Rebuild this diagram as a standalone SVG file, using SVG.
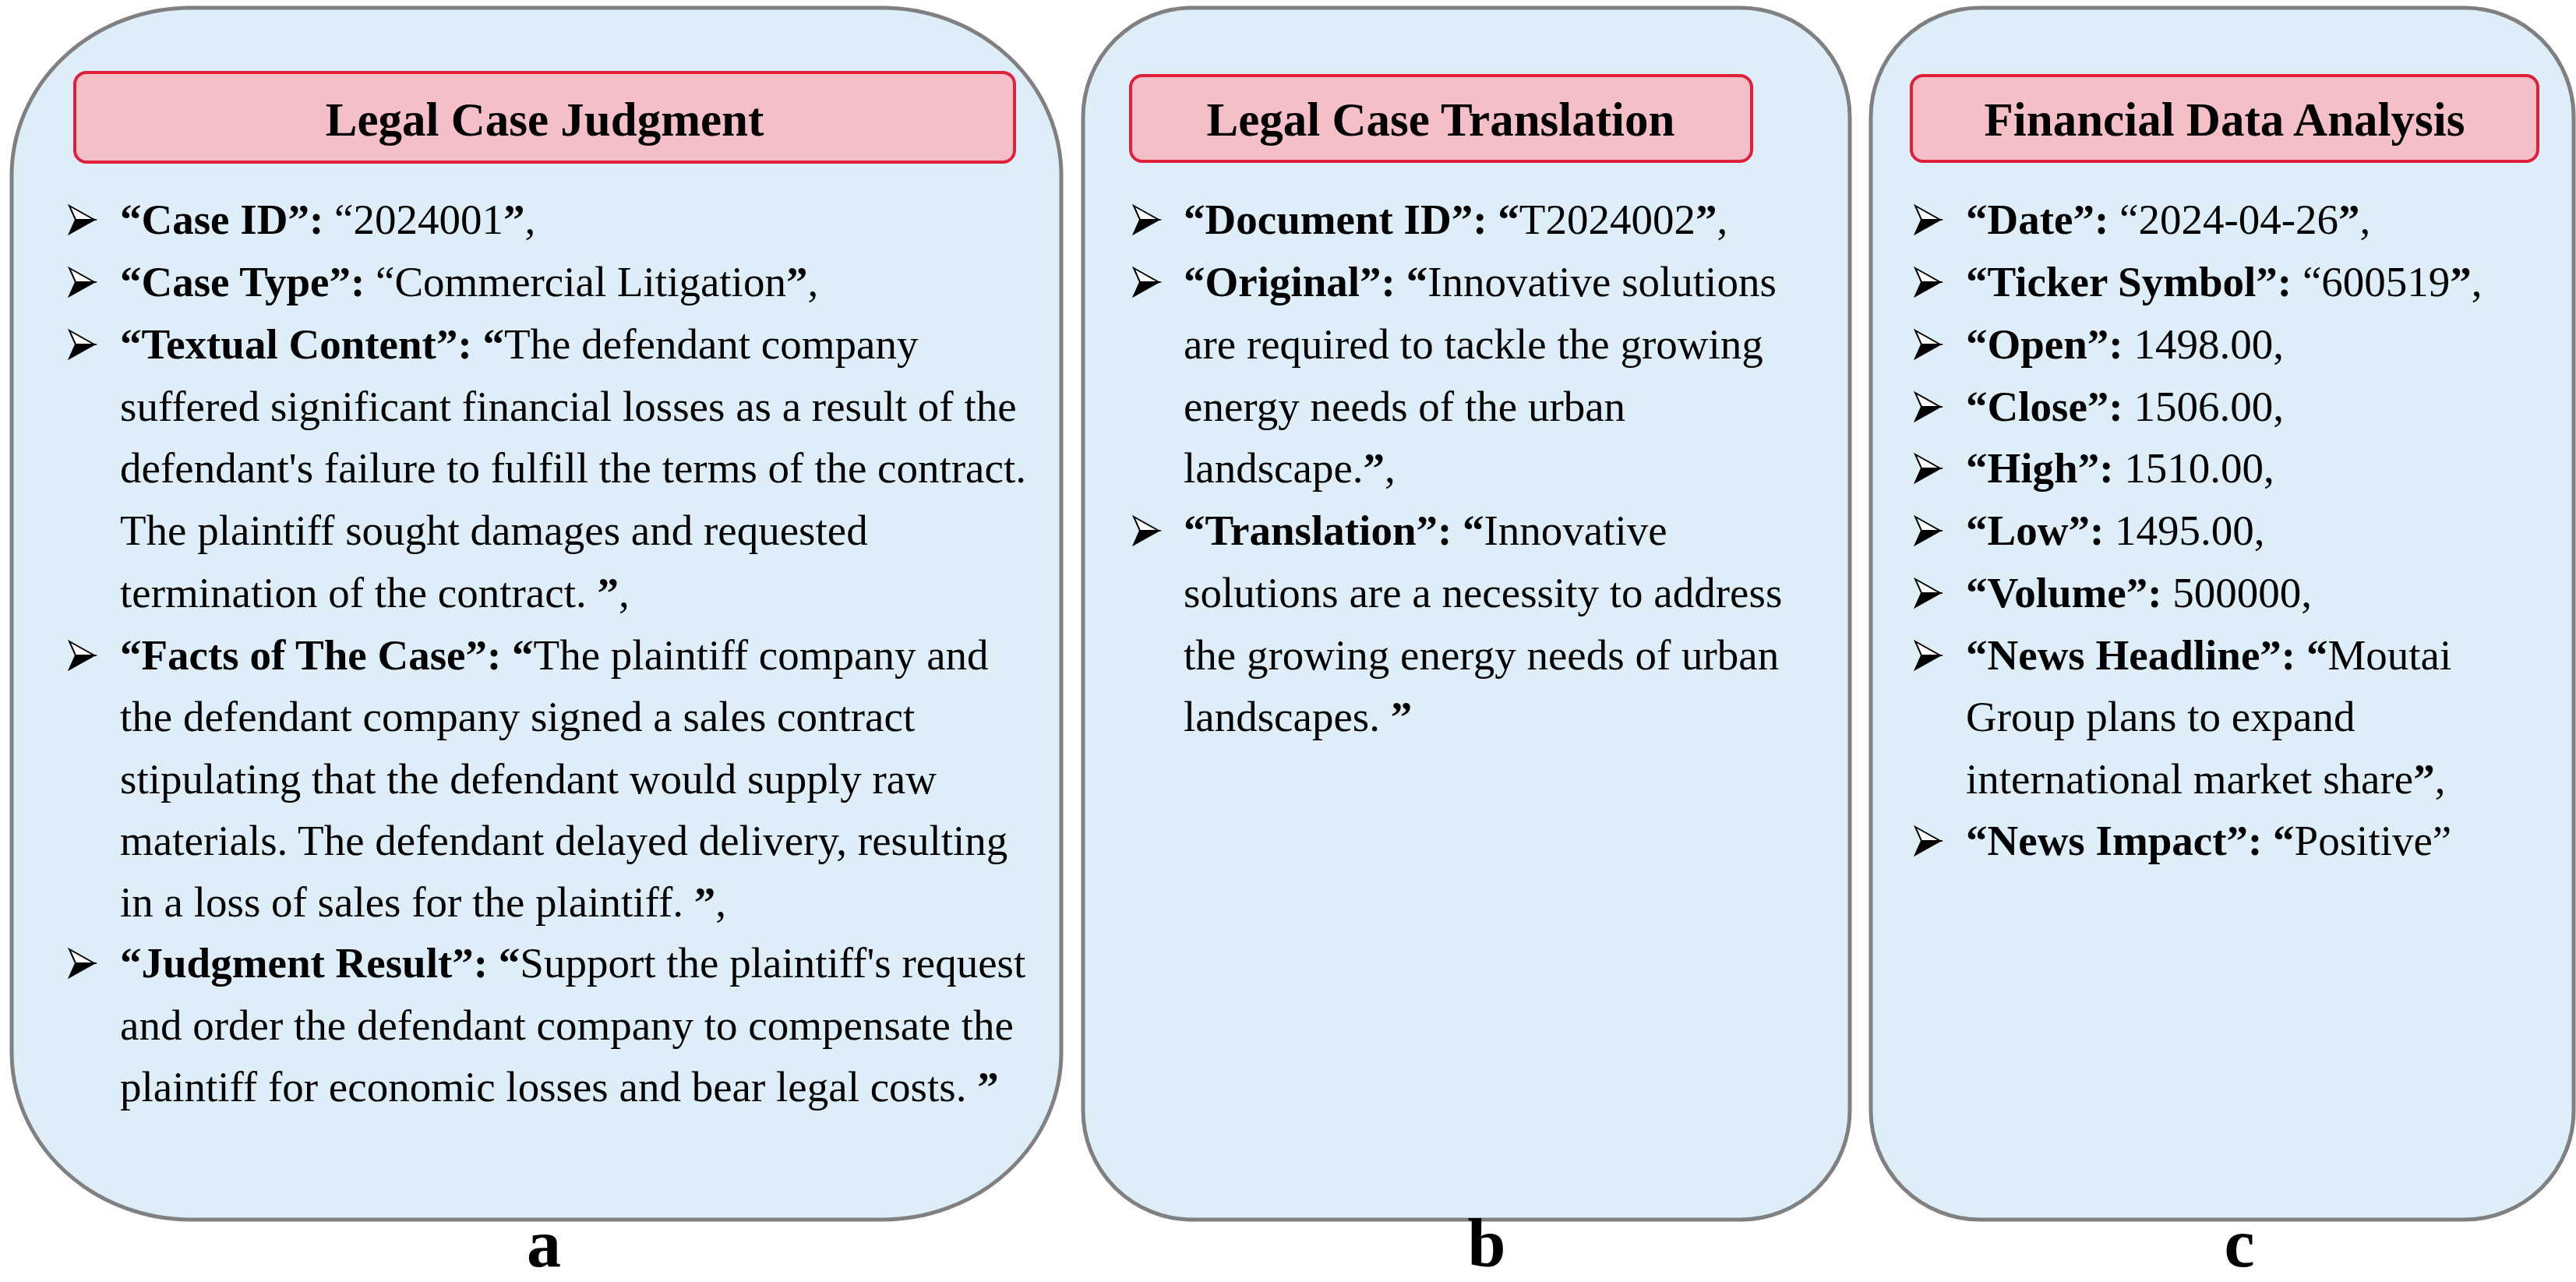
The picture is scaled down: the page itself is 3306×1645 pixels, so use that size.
<svg xmlns="http://www.w3.org/2000/svg" width="3306" height="1645" viewBox="0 0 3306 1645">
<style>
.panel{fill:#DDEEF8;stroke:#808080;stroke-width:5}
.title{fill:#F5BFC8;stroke:#E0203A;stroke-width:4}
.tt{font-family:"Liberation Serif",serif;font-size:61px;font-weight:bold;text-anchor:middle;fill:#000}
.t{font-family:"Liberation Serif",serif;font-size:55px;fill:#000}
.b{font-weight:bold}
.lab{font-family:"Liberation Serif",serif;font-size:88px;font-weight:bold;text-anchor:middle;fill:#000}
</style>
<defs>
<g id="bul">
<polygon points="0,-36 32,-18 8,-18" fill="#fff" stroke="#000" stroke-width="2"/>
<polygon points="8,-18 32,-18 0,0" fill="#000" stroke="#000" stroke-width="2"/>
</g>
</defs>
<g id="panel-a">
<rect class="panel" x="15" y="10" width="1347" height="1555" rx="230" ry="215"/>
<rect class="title" x="96" y="93" width="1206" height="115" rx="15"/>
<text class="tt" x="699" y="174">Legal Case Judgment</text>
<use href="#bul" x="89" y="300"/><use href="#bul" x="89" y="380"/><use href="#bul" x="89" y="460"/><use href="#bul" x="89" y="859"/><use href="#bul" x="89" y="1254"/>
<text class="t" x="154" y="300"><tspan class="b">“Case ID”:</tspan>  “2024001<tspan class="b">”</tspan>,</text>
<text class="t" x="154" y="380"><tspan class="b">“Case Type”:</tspan>  “Commercial Litigation<tspan class="b">”</tspan>,</text>
<text class="t" x="154" y="460"><tspan class="b">“Textual Content”: “</tspan>The defendant company</text>
<text class="t" x="154" y="540">suffered significant financial losses as a result of the</text>
<text class="t" x="154" y="619">defendant's failure to fulfill the terms of the contract.</text>
<text class="t" x="154" y="699">The plaintiff sought damages and requested</text>
<text class="t" x="154" y="779">termination of the contract. <tspan class="b">”</tspan>,</text>
<text class="t" x="154" y="859"><tspan class="b">“Facts of The Case”: “</tspan>The plaintiff company and</text>
<text class="t" x="154" y="938">the defendant company signed a sales contract</text>
<text class="t" x="154" y="1018">stipulating that the defendant would supply raw</text>
<text class="t" x="154" y="1097">materials. The defendant delayed delivery, resulting</text>
<text class="t" x="154" y="1176">in a loss of sales for the plaintiff. <tspan class="b">”</tspan>,</text>
<text class="t" x="154" y="1254"><tspan class="b">“Judgment Result”: “</tspan>Support the plaintiff's request</text>
<text class="t" x="154" y="1334">and order the defendant company to compensate the</text>
<text class="t" x="154" y="1413">plaintiff for economic losses and bear legal costs. <tspan class="b">”</tspan></text>
</g>
<g id="panel-b">
<rect class="panel" x="1390" y="10" width="984" height="1555" rx="140" ry="140"/>
<rect class="title" x="1451" y="97" width="797" height="110" rx="15"/>
<text class="tt" x="1849" y="174">Legal Case Translation</text>
<use href="#bul" x="1455" y="300"/><use href="#bul" x="1455" y="380"/><use href="#bul" x="1455" y="699"/>
<text class="t" x="1519" y="300"><tspan class="b">“Document ID”: “</tspan>T2024002<tspan class="b">”</tspan>,</text>
<text class="t" x="1519" y="380"><tspan class="b">“Original”: “</tspan>Innovative solutions</text>
<text class="t" x="1519" y="460">are required to tackle the growing</text>
<text class="t" x="1519" y="540">energy needs of the urban</text>
<text class="t" x="1519" y="619">landscape.<tspan class="b">”</tspan>,</text>
<text class="t" x="1519" y="699"><tspan class="b">“Translation”: “</tspan>Innovative</text>
<text class="t" x="1519" y="779">solutions are a necessity to address</text>
<text class="t" x="1519" y="859">the growing energy needs of urban</text>
<text class="t" x="1519" y="938">landscapes. <tspan class="b">”</tspan></text>
</g>
<g id="panel-c">
<rect class="panel" x="2401" y="10" width="902" height="1555" rx="140" ry="140"/>
<rect class="title" x="2453" y="97" width="804" height="110" rx="15"/>
<text class="tt" x="2855" y="174">Financial Data Analysis</text>
<use href="#bul" x="2458" y="300"/><use href="#bul" x="2458" y="380"/><use href="#bul" x="2458" y="460"/><use href="#bul" x="2458" y="540"/><use href="#bul" x="2458" y="619"/><use href="#bul" x="2458" y="699"/><use href="#bul" x="2458" y="779"/><use href="#bul" x="2458" y="859"/><use href="#bul" x="2458" y="1097"/>
<text class="t" x="2523" y="300"><tspan class="b">“Date”:</tspan> “2024-04-26<tspan class="b">”</tspan>,</text>
<text class="t" x="2523" y="380"><tspan class="b">“Ticker Symbol”:</tspan> “600519<tspan class="b">”</tspan>,</text>
<text class="t" x="2523" y="460"><tspan class="b">“Open”:</tspan> 1498.00,</text>
<text class="t" x="2523" y="540"><tspan class="b">“Close”:</tspan> 1506.00,</text>
<text class="t" x="2523" y="619"><tspan class="b">“High”:</tspan> 1510.00,</text>
<text class="t" x="2523" y="699"><tspan class="b">“Low”:</tspan> 1495.00,</text>
<text class="t" x="2523" y="779"><tspan class="b">“Volume”:</tspan> 500000,</text>
<text class="t" x="2523" y="859"><tspan class="b">“News Headline”: “</tspan>Moutai</text>
<text class="t" x="2523" y="938">Group plans to expand</text>
<text class="t" x="2523" y="1018">international market share<tspan class="b">”</tspan>,</text>
<text class="t" x="2523" y="1097"><tspan class="b">“News Impact”: “</tspan>Positive”</text>
</g>
<g id="labels">
<text class="lab" x="698" y="1625">a</text>
<text class="lab" x="1908" y="1625">b</text>
<text class="lab" x="2874" y="1625">c</text>
</g>
<g id="connectors"/>
</svg>
